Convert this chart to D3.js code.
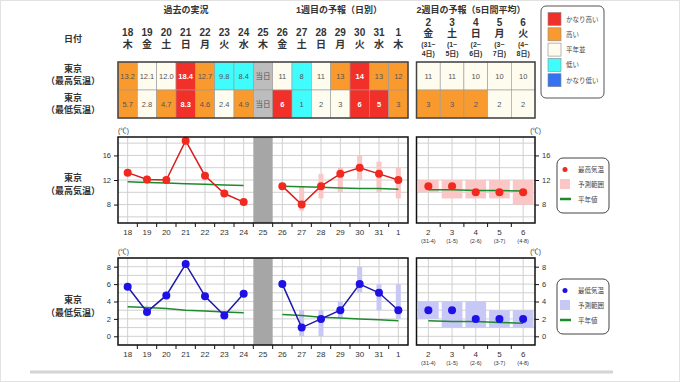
<!DOCTYPE html>
<html>
<head>
<meta charset="utf-8">
<script src="https://cdn.jsdelivr.net/npm/d3@7"></script>
<style>
  body { margin: 0; background: #fff; }
  svg { display: block; font-family: "Liberation Sans", "Noto Sans CJK JP", sans-serif; }
</style>
</head>
<body>
<svg id="chart" width="680" height="382"></svg>
<script>
// ---- data ----
var days = ["18","19","20","21","22","23","24","25","26","27","28","29","30","31","1"]
var weekdays = ["木","金","土","日","月","火","水","木","金","土","日","月","火","水","木"]
var weeks = ["2","3","4","5","6"]
var weekWd = ["金","土","日","月","火"]
var weekSpanA = ["(31~","(1~","(2~","(3~","(4~"]
var weekSpanB = ["4日)","5日)","6日)","7日)","8日)"]
var weekAxisSub = ["(31-4)","(1-5)","(2-6)","(3-7)","(4-8)"]

var maxText = ["13.2","12.1","12.0","18.4","12.7","9.8","8.4","当日","11","8","11","13","14","13","12"]
var maxClass = ["high","normal","normal","vhigh","high","low","low","today","normal","low","normal","high","vhigh","high","high"]
var minText = ["5.7","2.8","4.7","8.3","4.6","2.4","4.9","当日","6","1","2","3","6","5","3"]
var minClass = ["high","normal","high","vhigh","high","normal","high","today","vhigh","low","normal","normal","vhigh","vhigh","high"]
var maxW2Text = ["11","11","10","10","10"]
var maxW2Class = ["normal","normal","normal","normal","normal"]
var minW2Text = ["3","3","2","2","2"]
var minW2Class = ["high","high","high","normal","normal"]

var obsDays = ["18","19","20","21","22","23","24"]
var fcDays = ["26","27","28","29","30","31","1"]

var maxObs = [13.2, 12.1, 12.0, 18.4, 12.7, 9.8, 8.4]
var maxFc = [11, 8, 11, 13, 14, 13, 12]
var maxFcLo = [null, 7, 9, 10, 12, 10, 9]
var maxFcHi = [null, 11, 13, 14, 16, 15, 14]
var maxNormObs = [11.7, 11.6, 11.5, 11.4, 11.3, 11.2, 11.1]
var maxNormFc = [11.0, 10.9, 10.8, 10.7, 10.6, 10.6, 10.5]
var maxW2 = [11, 11, 10, 10, 10]
var maxW2Lo = [10, 9, 9, 9, 8]
var maxW2Hi = [12, 12, 12, 12, 12]
var maxW2Norm = [10.4, 10.4, 10.3, 10.3, 10.2]

var minObs = [5.7, 2.8, 4.7, 8.3, 4.6, 2.4, 4.9]
var minFc = [6, 1, 2, 3, 6, 5, 3]
var minFcLo = [null, 0, 0, 2, 5, 3, 2]
var minFcHi = [null, 3, 3, 4, 8, 6, 6]
var minNormObs = [3.4, 3.3, 3.2, 3.0, 2.9, 2.8, 2.7]
var minNormFc = [2.5, 2.4, 2.2, 2.1, 2.0, 1.9, 1.8]
var minW2 = [3, 3, 2, 2, 2]
var minW2Lo = [2, 1, 1, 1, 1]
var minW2Hi = [4, 4, 4, 3, 3]
var minW2Norm = [1.8, 1.7, 1.7, 1.6, 1.5]

var legendNames = ["かなり高い","高い","平年並","低い","かなり低い"]
var legendClass = ["vhigh","high","normal","low","vlow"]

var cellColor = {vhigh: "#f2302a", high: "#f89a2e", normal: "#fefbef", low: "#40fcfc", vlow: "#3373ef", today: "#bdbdbd"}

// ---- layout ----
var svg = d3.select("#chart")
var x = d3.scaleBand().domain(days).range([118, 408])
var xw = d3.scaleBand().domain(weeks).range([416.5, 535])
var cx = function(d) { return x(d) + x.bandwidth() / 2 }
var cxw = function(d) { return xw(d) + xw.bandwidth() / 2 }
var txt = "#333"

svg.append("rect").attr("x", 0.5).attr("y", 0.5).attr("width", 679).attr("height", 381)
    .attr("fill", "none").attr("stroke", "#e2e2e2")

// section titles
var titles = [["過去の実況", 186], ["1週目の予報（日別）", 339], ["2週目の予報（5日間平均）", 471]]
svg.selectAll(".title").data(titles).enter().append("text")
    .attr("x", function(d) { return d[1] }).attr("y", 10)
    .attr("text-anchor", "middle").attr("dominant-baseline", "central")
    .attr("font-size", 9).attr("font-weight", "bold").attr("fill", txt)
    .text(function(d) { return d[0] })

// header
svg.append("text").attr("x", 73).attr("y", 39).attr("text-anchor", "middle").attr("dominant-baseline", "central")
    .attr("font-size", 9).attr("font-weight", "bold").attr("fill", txt).text("日付")

svg.selectAll(".dnum").data(days).enter().append("text")
    .attr("x", cx).attr("y", 32).attr("text-anchor", "middle").attr("dominant-baseline", "central")
    .attr("font-size", 10).attr("font-weight", "bold").attr("fill", txt).text(function(d) { return d })
svg.selectAll(".dwd").data(days).enter().append("text")
    .attr("x", cx).attr("y", 44).attr("text-anchor", "middle").attr("dominant-baseline", "central")
    .attr("font-size", 10).attr("font-weight", "bold").attr("fill", txt).text(function(d, i) { return weekdays[i] })

weeks.forEach(function(w, i) {
    var g = svg.append("g").attr("text-anchor", "middle").attr("font-weight", "bold").attr("fill", txt)
    g.append("text").attr("x", cxw(w)).attr("y", 22).attr("dominant-baseline", "central").attr("font-size", 10).text(w)
    g.append("text").attr("x", cxw(w)).attr("y", 33).attr("dominant-baseline", "central").attr("font-size", 10).text(weekWd[i])
    g.append("text").attr("x", cxw(w)).attr("y", 44).attr("dominant-baseline", "central").attr("font-size", 7).text(weekSpanA[i])
    g.append("text").attr("x", cxw(w)).attr("y", 53).attr("dominant-baseline", "central").attr("font-size", 7).text(weekSpanB[i])
})

// table rows
function rowLabel(y, sub) {
    var g = svg.append("g").attr("text-anchor", "middle").attr("font-weight", "bold").attr("fill", txt).attr("font-size", 9)
    g.append("text").attr("x", 73).attr("y", y).attr("dominant-baseline", "central").text("東京")
    g.append("text").attr("x", 73).attr("y", y + 12).attr("dominant-baseline", "central").text(sub)
}
rowLabel(69, "（最高気温）")
rowLabel(98, "（最低気温）")

function tableRow(scale, keys, texts, classes, y0, h) {
    var g = svg.append("g")
    g.selectAll("rect").data(keys).enter().append("rect")
        .attr("x", function(d) { return scale(d) }).attr("y", y0)
        .attr("width", scale.bandwidth()).attr("height", h)
        .attr("fill", function(d, i) { return cellColor[classes[i]] })
        .attr("stroke", "#999").attr("stroke-width", 0.6)
    g.selectAll("text").data(keys).enter().append("text")
        .attr("x", function(d) { return scale(d) + scale.bandwidth() / 2 }).attr("y", y0 + h / 2)
        .attr("text-anchor", "middle").attr("dominant-baseline", "central")
        .attr("font-size", 7.5)
        .attr("font-weight", function(d, i) { return classes[i] == "vhigh" || classes[i] == "vlow" ? "bold" : "normal" })
        .attr("fill", function(d, i) { return classes[i] == "vhigh" || classes[i] == "vlow" ? "#fff" : "#555" })
        .text(function(d, i) { return texts[i] })
}
tableRow(x, days, maxText, maxClass, 62, 28)
tableRow(x, days, minText, minClass, 90, 28)
tableRow(xw, weeks, maxW2Text, maxW2Class, 62, 28)
tableRow(xw, weeks, minW2Text, minW2Class, 90, 28)
svg.append("rect").attr("x", 118).attr("y", 62).attr("width", 290).attr("height", 56)
    .attr("fill", "none").attr("stroke", "#444").attr("stroke-width", 1.5)
svg.append("rect").attr("x", 416.5).attr("y", 62).attr("width", 118.5).attr("height", 56)
    .attr("fill", "none").attr("stroke", "#444").attr("stroke-width", 1.5)

// colour legend
svg.append("rect").attr("x", 541).attr("y", 6).attr("width", 63).attr("height", 92).attr("rx", 5)
    .attr("fill", "#fff").attr("stroke", "#555").attr("stroke-width", 1)
legendNames.forEach(function(n, i) {
    var yy = 19 + i * 15.3
    svg.append("rect").attr("x", 548).attr("y", yy - 6.5).attr("width", 13).attr("height", 13)
        .attr("fill", cellColor[legendClass[i]]).attr("stroke", "#888").attr("stroke-width", 0.6)
    svg.append("text").attr("x", 566).attr("y", yy).attr("dominant-baseline", "central")
        .attr("font-size", 6.5).attr("fill", "#444").text(n)
})

// ---- charts ----
function drawChart(cfg) {
    var y = cfg.y, top = cfg.top, bot = cfg.bot
    var g = svg.append("g")
    var d0 = y.domain()

    // horizontal grid
    var gridVals = d3.range(Math.ceil(d0[0]), d0[1] + 0.01, 1).filter(function(v) { return v % cfg.gridStep == 0 })
    ;[[118, 408], [416.5, 535]].forEach(function(r) {
        g.selectAll(null).data(gridVals).enter().append("line")
            .attr("x1", r[0]).attr("x2", r[1]).attr("y1", y).attr("y2", y)
            .attr("stroke", "#d0d0d0").attr("stroke-width", 1)
    })
    // vertical grid
    g.selectAll(null).data(days).enter().append("line")
        .attr("x1", cx).attr("x2", cx).attr("y1", top).attr("y2", bot)
        .attr("stroke", "#d0d0d0")
    g.selectAll(null).data(weeks).enter().append("line")
        .attr("x1", cxw).attr("x2", cxw).attr("y1", top).attr("y2", bot)
        .attr("stroke", "#d0d0d0")

    // today bar
    g.append("rect").attr("x", x("25")).attr("y", top).attr("width", x.bandwidth()).attr("height", bot - top)
        .attr("fill", "#a6a6a6")

    // range bars
    g.selectAll(null).data(fcDays.filter(function(d, i) { return cfg.lo[i] != null })).enter().append("rect")
        .attr("x", function(d) { return cx(d) - 2.5 }).attr("width", 5)
        .attr("y", function(d) { var i = fcDays.indexOf(d); return y(cfg.hi[i]) })
        .attr("height", function(d) { var i = fcDays.indexOf(d); return y(cfg.lo[i]) - y(cfg.hi[i]) })
        .attr("fill", cfg.range)
    g.selectAll(null).data(weeks).enter().append("rect")
        .attr("x", function(d) { return xw(d) + 1.5 }).attr("width", xw.bandwidth() - 3)
        .attr("y", function(d, i) { return y(cfg.w2hi[i]) })
        .attr("height", function(d, i) { return y(cfg.w2lo[i]) - y(cfg.w2hi[i]) })
        .attr("fill", cfg.range)

    // normals
    var nline = d3.line()
    g.append("path").attr("d", nline(obsDays.map(function(d, i) { return [cx(d), y(cfg.normObs[i])] })))
        .attr("fill", "none").attr("stroke", "#1e8a2e").attr("stroke-width", 1.5)
    g.append("path").attr("d", nline(fcDays.map(function(d, i) { return [cx(d), y(cfg.normFc[i])] })))
        .attr("fill", "none").attr("stroke", "#1e8a2e").attr("stroke-width", 1.5)
    g.append("path").attr("d", nline(weeks.map(function(d, i) { return [cxw(d), y(cfg.w2norm[i])] })))
        .attr("fill", "none").attr("stroke", "#1e8a2e").attr("stroke-width", 1.5)

    // series lines + dots
    g.append("path").attr("d", nline(obsDays.map(function(d, i) { return [cx(d), y(cfg.obs[i])] })))
        .attr("fill", "none").attr("stroke", cfg.line).attr("stroke-width", 1.5)
    g.append("path").attr("d", nline(fcDays.map(function(d, i) { return [cx(d), y(cfg.fc[i])] })))
        .attr("fill", "none").attr("stroke", cfg.line).attr("stroke-width", 1.5)
    g.selectAll(null).data(obsDays).enter().append("circle")
        .attr("cx", cx).attr("cy", function(d, i) { return y(cfg.obs[i]) }).attr("r", 4).attr("fill", cfg.dot)
    g.selectAll(null).data(fcDays).enter().append("circle")
        .attr("cx", cx).attr("cy", function(d, i) { return y(cfg.fc[i]) }).attr("r", 4).attr("fill", cfg.dot)
    g.selectAll(null).data(weeks).enter().append("circle")
        .attr("cx", cxw).attr("cy", function(d, i) { return y(cfg.w2[i]) }).attr("r", 4).attr("fill", cfg.dot)

    // frames
    g.append("rect").attr("x", 118).attr("y", top).attr("width", 290).attr("height", bot - top)
        .attr("fill", "none").attr("stroke", "#111").attr("stroke-width", 1.5)
    g.append("rect").attr("x", 416.5).attr("y", top).attr("width", 118.5).attr("height", bot - top)
        .attr("fill", "none").attr("stroke", "#111").attr("stroke-width", 1.5)

    // y axes
    var ya = g.append("g").attr("transform", "translate(118,0)")
        .call(d3.axisLeft(y).tickValues(cfg.ticks).tickSize(4).tickPadding(3).tickFormat(d3.format("d")))
    var yb = g.append("g").attr("transform", "translate(535,0)")
        .call(d3.axisRight(y).tickValues(cfg.ticks).tickSize(4).tickPadding(3).tickFormat(d3.format("d")))
    ;[ya, yb].forEach(function(a) {
        a.select(".domain").remove()
        a.selectAll("line").attr("stroke", "#111")
        a.selectAll("text").attr("font-size", 7.5).attr("fill", txt).attr("font-family", null)
    })

    // x ticks at cell boundaries
    var bnd = days.map(function(d) { return x(d) }).slice(1)
    g.selectAll(null).data(bnd).enter().append("line")
        .attr("x1", function(d) { return d }).attr("x2", function(d) { return d })
        .attr("y1", bot).attr("y2", bot + 4).attr("stroke", "#111")
    var bndw = weeks.map(function(d) { return xw(d) }).slice(1)
    g.selectAll(null).data(bndw).enter().append("line")
        .attr("x1", function(d) { return d }).attr("x2", function(d) { return d })
        .attr("y1", bot).attr("y2", bot + 4).attr("stroke", "#111")

    // x labels
    g.selectAll(null).data(days).enter().append("text")
        .attr("x", cx).attr("y", bot + 9).attr("text-anchor", "middle").attr("dominant-baseline", "central")
        .attr("font-size", 8).attr("fill", txt).text(function(d) { return d })
    g.selectAll(null).data(weeks).enter().append("text")
        .attr("x", cxw).attr("y", bot + 9).attr("text-anchor", "middle").attr("dominant-baseline", "central")
        .attr("font-size", 8).attr("fill", txt).text(function(d) { return d })
    g.selectAll(null).data(weeks).enter().append("text")
        .attr("x", cxw).attr("y", bot + 18).attr("text-anchor", "middle").attr("dominant-baseline", "central")
        .attr("font-size", 5.5).attr("fill", txt).text(function(d, i) { return weekAxisSub[i] })

    // unit labels
    g.append("text").attr("x", 118).attr("y", top - 7).attr("dominant-baseline", "central")
        .attr("font-size", 6.5).attr("fill", txt).text("(℃)")
    g.append("text").attr("x", 541).attr("y", top - 7).attr("text-anchor", "end").attr("dominant-baseline", "central")
        .attr("font-size", 6.5).attr("fill", txt).text("(℃)")

    // row label
    var lg = g.append("g").attr("text-anchor", "middle").attr("font-weight", "bold").attr("fill", txt).attr("font-size", 9)
    lg.append("text").attr("x", 73).attr("y", cfg.labelY).attr("dominant-baseline", "central").text("東京")
    lg.append("text").attr("x", 73).attr("y", cfg.labelY + 13).attr("dominant-baseline", "central").text(cfg.sub)

    // legend
    var ly = cfg.legY
    g.append("rect").attr("x", 557).attr("y", ly).attr("width", 52).attr("height", 55).attr("rx", 6)
        .attr("fill", "#fff").attr("stroke", "#444").attr("stroke-width", 1)
    g.append("circle").attr("cx", 565).attr("cy", ly + 11.5).attr("r", 2.5).attr("fill", cfg.dot)
    g.append("rect").attr("x", 560).attr("y", ly + 21).attr("width", 10).attr("height", 10).attr("fill", cfg.range)
    g.append("line").attr("x1", 560).attr("x2", 571).attr("y1", ly + 41).attr("y2", ly + 41)
        .attr("stroke", "#1e8a2e").attr("stroke-width", 2.5)
    var names = [cfg.name, "予測範囲", "平年値"]
    names.forEach(function(n, i) {
        g.append("text").attr("x", 578).attr("y", ly + 11.5 + i * 14.8).attr("dominant-baseline", "central")
            .attr("font-size", 6.5).attr("fill", "#444").text(n)
    })
}

drawChart({
    y: d3.scaleLinear().domain([5, 19]).range([223, 137]), top: 137, bot: 223,
    gridStep: 2, ticks: [8, 12, 16],
    obs: maxObs, fc: maxFc, lo: maxFcLo, hi: maxFcHi, normObs: maxNormObs, normFc: maxNormFc,
    w2: maxW2, w2lo: maxW2Lo, w2hi: maxW2Hi, w2norm: maxW2Norm,
    dot: "#f02a1e", line: "#d81e1e", range: "#fac6c6",
    labelY: 178, sub: "（最高気温）", legY: 158, name: "最高気温"
})
drawChart({
    y: d3.scaleLinear().domain([-1, 9]).range([345, 258]), top: 258, bot: 345,
    gridStep: 1, ticks: [0, 2, 4, 6, 8],
    obs: minObs, fc: minFc, lo: minFcLo, hi: minFcHi, normObs: minNormObs, normFc: minNormFc,
    w2: minW2, w2lo: minW2Lo, w2hi: minW2Hi, w2norm: minW2Norm,
    dot: "#1f10e6", line: "#1c18a8", range: "#c8c8f6",
    labelY: 300, sub: "（最低気温）", legY: 279, name: "最低気温"
})

// bottom rule
svg.append("line").attr("x1", 30).attr("x2", 613).attr("y1", 372).attr("y2", 372)
    .attr("stroke", "#d4d4d4").attr("stroke-width", 3)
</script>
</body>
</html>
